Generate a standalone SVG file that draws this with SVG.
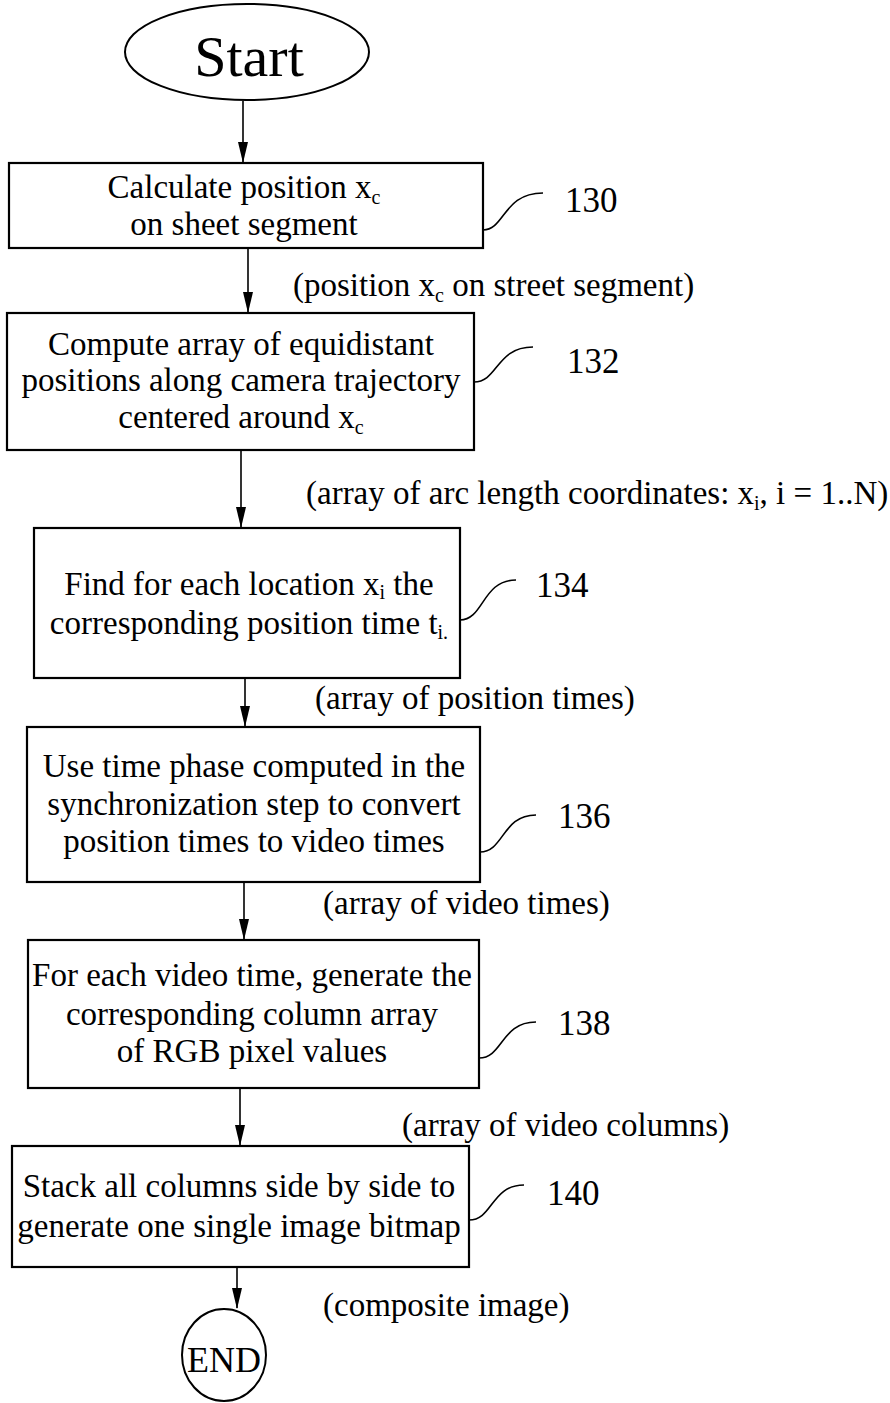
<svg xmlns="http://www.w3.org/2000/svg" width="890" height="1403" viewBox="0 0 890 1403">
<defs>
<style>
text{font-family:"Liberation Serif","Times New Roman",serif;fill:#000}
.box{fill:#fff;stroke:#000;stroke-width:2.2}
.t{font-size:33px;text-anchor:middle}
.lbl{font-size:33px}
.num{font-size:35px}
.sub{font-size:20px}
.con line{stroke:#000;stroke-width:1.6}
.con path{fill:#000;stroke:none}
.lead{fill:none;stroke:#000;stroke-width:1.6}
</style>
</defs>
<rect width="890" height="1403" fill="#fff"/>
<g id="connectors" class="con">
<line x1="243" y1="101" x2="243" y2="162"/>
<path d="M238,142 L248,142 L243,163 Z"/>
<line x1="248" y1="248" x2="248" y2="312"/>
<path d="M243,292 L253,292 L248,313 Z"/>
<line x1="241" y1="451" x2="241" y2="527"/>
<path d="M236,507 L246,507 L241,528 Z"/>
<line x1="245" y1="679" x2="245" y2="726"/>
<path d="M240,706 L250,706 L245,727 Z"/>
<line x1="244" y1="883" x2="244" y2="939"/>
<path d="M239,919 L249,919 L244,940 Z"/>
<line x1="240" y1="1089" x2="240" y2="1145"/>
<path d="M235,1125 L245,1125 L240,1146 Z"/>
<line x1="237" y1="1268" x2="237" y2="1308"/>
<path d="M232,1288 L242,1288 L237,1309 Z"/>
<text class="lbl" x="293" y="296">(position x<tspan class="sub" dy="6">c</tspan><tspan dy="-6"> on street segment)</tspan></text>
<text class="lbl" x="306" y="504">(array of arc length coordinates: x<tspan class="sub" dy="6">i</tspan><tspan dy="-6">, i = 1..N)</tspan></text>
<text class="lbl" x="315" y="709">(array of position times)</text>
<text class="lbl" x="323" y="914">(array of video times)</text>
<text class="lbl" x="402" y="1136">(array of video columns)</text>
<text class="lbl" x="323" y="1316">(composite image)</text>
</g>
<g id="start">
<ellipse cx="247" cy="52" rx="122" ry="48" fill="#fff" stroke="#000" stroke-width="2"/>
<text x="249" y="76" font-size="58" text-anchor="middle">Start</text>
</g>
<g id="n130">
<rect class="box" x="9" y="163" width="474" height="85"/>
<text class="t"><tspan x="244" y="198">Calculate position x<tspan class="sub" dy="6">c</tspan></tspan><tspan x="244" y="235">on sheet segment</tspan></text>
<path class="lead" d="M483,230 C505,230 503,193 543,193"/>
<text class="num" x="565" y="212">130</text>
</g>
<g id="n132">
<rect class="box" x="7" y="313" width="467" height="137"/>
<text class="t"><tspan x="241" y="355">Compute array of equidistant</tspan><tspan x="241" y="391">positions along camera trajectory</tspan><tspan x="241" y="428">centered around  x<tspan class="sub" dy="6">c</tspan></tspan></text>
<path class="lead" d="M474,382 C498,382 496,347 533,347"/>
<text class="num" x="567" y="373">132</text>
</g>
<g id="n134">
<rect class="box" x="34" y="528" width="426" height="150"/>
<text class="t"><tspan x="249" y="595">Find for each location x<tspan class="sub" dy="4">i</tspan><tspan dy="-4"> the</tspan></tspan><tspan x="249" y="634">corresponding position time t<tspan class="sub" dy="5">i.</tspan></tspan></text>
<path class="lead" d="M460,620 C484,620 482,580 516,580"/>
<text class="num" x="536" y="597">134</text>
</g>
<g id="n136">
<rect class="box" x="27" y="727" width="453" height="155"/>
<text class="t"><tspan x="254" y="777">Use time phase computed in the</tspan><tspan x="254" y="815">synchronization step to convert</tspan><tspan x="254" y="852">position times to video times</tspan></text>
<path class="lead" d="M480,852 C504,852 502,815 536,815"/>
<text class="num" x="558" y="828">136</text>
</g>
<g id="n138">
<rect class="box" x="28" y="940" width="451" height="148"/>
<text class="t"><tspan x="252" y="986">For each video time, generate the</tspan><tspan x="252" y="1025">corresponding column array</tspan><tspan x="252" y="1062">of RGB pixel values</tspan></text>
<path class="lead" d="M479,1058 C503,1058 501,1022 536,1022"/>
<text class="num" x="558" y="1035">138</text>
</g>
<g id="n140">
<rect class="box" x="12" y="1146" width="457" height="121"/>
<text class="t"><tspan x="239" y="1197">Stack all columns side by side to</tspan><tspan x="239" y="1237">generate one single image bitmap</tspan></text>
<path class="lead" d="M469,1220 C493,1220 491,1185 524,1185"/>
<text class="num" x="547" y="1205">140</text>
</g>
<g id="end">
<ellipse cx="224" cy="1355" rx="42" ry="46" fill="#fff" stroke="#000" stroke-width="2"/>
<text x="224" y="1372" font-size="36" text-anchor="middle">END</text>
</g>
</svg>
